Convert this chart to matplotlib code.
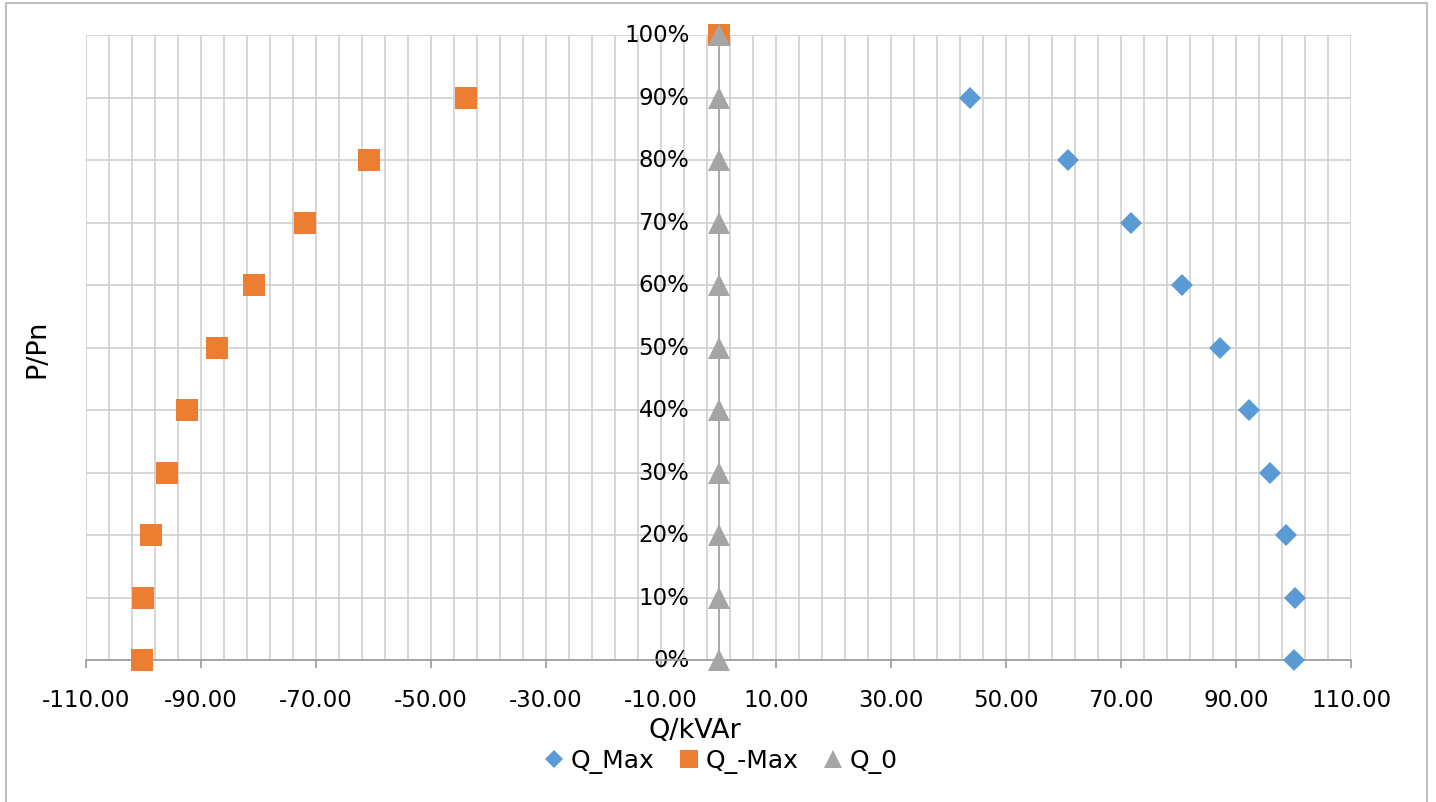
import numpy as np
import matplotlib
matplotlib.use("Agg")
import matplotlib.pyplot as plt
from matplotlib.lines import Line2D
from matplotlib.transforms import blended_transform_factory

plt.rcParams["font.family"] = "DejaVu Sans"
plt.rcParams["axes.unicode_minus"] = False

# P/Pn levels
p_levels = [0.0, 0.1, 0.2, 0.3, 0.4, 0.5, 0.6, 0.7, 0.8, 0.9, 1.0]
q_max = [100.0, 100.3, 98.7, 95.9, 92.3, 87.2, 80.6, 71.7, 60.8, 43.7, 0.0]
q_neg_max = [-100.2, -100.1, -98.7, -96.0, -92.4, -87.3, -80.7, -71.9, -60.8, -43.9, 0.0]
q_zero = [0.0] * 11
y_tick_labels = ["0%", "10%", "20%", "30%", "40%", "50%", "60%", "70%", "80%", "90%", "100%"]

BLUE = "#5B9BD5"
ORANGE = "#ED7D31"
GREY = "#A5A5A5"
GRID = "#CFCFCF"
AXIS = "#9A9A9A"
FS = 16.5
FS_LABEL = 19.5
FS_LEGEND = 18

W, H = 1436, 803
fig = plt.figure(figsize=(W / 100, H / 100), dpi=100)
ax = fig.add_axes([86 / W, 1 - 661 / H, (1351 - 86) / W, (661 - 36) / H])

ax.plot(q_max, p_levels, linestyle="none", marker="D", markersize=10.8,
        color=BLUE, markeredgewidth=0, zorder=3, clip_on=False)
ax.plot(q_neg_max, p_levels, linestyle="none", marker="s", markersize=16,
        color=ORANGE, markeredgewidth=0, zorder=4, clip_on=False)
ax.plot(q_zero, p_levels, linestyle="none", marker="^", markersize=15.5,
        color=GREY, markeredgewidth=0, zorder=5, clip_on=False)

ax.set_xlim(-110, 110)
ax.set_ylim(0, 1)
ax.set_xticks(np.arange(-110, 111, 20))
ax.set_xticks(np.arange(-110, 111, 4), minor=True)
ax.set_xticklabels([f"{v:.2f}" for v in np.arange(-110, 111, 20)], fontsize=FS)
ax.set_yticks(p_levels)

ax.grid(True, which="both", axis="x", color=GRID, linewidth=1.2, zorder=0)
ax.grid(True, which="major", axis="y", color=GRID, linewidth=1.2, zorder=0)
ax.set_axisbelow(True)

for side in ["top", "right"]:
    ax.spines[side].set_visible(False)
ax.spines["left"].set_position(("data", 0))
ax.spines["left"].set_color(AXIS)
ax.spines["bottom"].set_color(AXIS)
ax.spines["left"].set_linewidth(1.2)
ax.spines["bottom"].set_linewidth(1.2)
ax.spines["left"].set_zorder(1)

ax.tick_params(axis="y", length=0, labelleft=False)
ax.tick_params(axis="x", which="major", length=6, color=AXIS, width=1.2, pad=14)
ax.tick_params(axis="x", which="minor", length=0)

trans = blended_transform_factory(ax.transData, ax.transData)
for val, lab in zip(p_levels, y_tick_labels):
    ax.annotate(lab, xy=(0, val), xycoords=trans, xytext=(-21, 0),
                textcoords="offset points", ha="right", va="center",
                fontsize=FS, zorder=2)

fig.text(695 / W, 1 - 731 / H, "Q/kVAr", ha="center", va="center", fontsize=FS_LABEL)
fig.text(37 / W, 1 - 349 / H, "P/Pn", ha="center", va="center",
         rotation=90, fontsize=FS_LABEL)

handles = [
    Line2D([], [], linestyle="none", marker="D", markersize=9.2, color=BLUE, markeredgewidth=0),
    Line2D([], [], linestyle="none", marker="s", markersize=13, color=ORANGE, markeredgewidth=0),
    Line2D([], [], linestyle="none", marker="^", markersize=13.5, color=GREY, markeredgewidth=0),
]
fig.legend(handles, ["Q_Max", "Q_-Max", "Q_0"], loc="center",
           bbox_to_anchor=(721 / W, 1 - 762 / H), ncol=3, frameon=False,
           fontsize=FS_LEGEND, handlelength=0.8, handletextpad=0.25,
           columnspacing=1.0, borderpad=0.2)

# outer chart border
border_x = [6 / W, 6 / W, 1427 / W, 1427 / W]
border_y = [-0.01, 1 - 4 / H, 1 - 4 / H, -0.01]
fig.add_artist(Line2D(border_x, border_y, transform=fig.transFigure,
                      color="#BFBFBF", linewidth=1.5))

fig.savefig("out.png", dpi=100)
